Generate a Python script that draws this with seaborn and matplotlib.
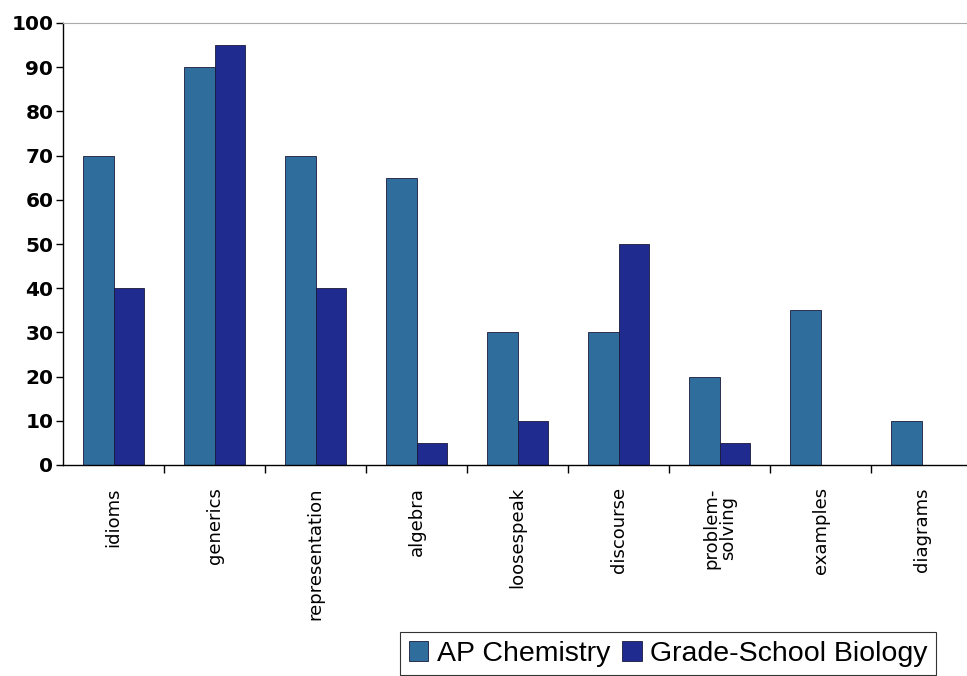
import matplotlib
matplotlib.use("Agg")
import matplotlib.pyplot as plt
import seaborn as sns
import pandas as pd
import numpy as np

categories = ["idioms", "generics", "representation", "algebra", "loosespeak",
              "discourse", "problem-\nsolving", "examples", "diagrams"]
ap_chemistry = [70, 90, 70, 65, 30, 30, 20, 35, 10]
grade_school_biology = [40, 95, 40, 5, 10, 50, 5, 0, 0]
series_names = ["AP Chemistry", "Grade-School Biology"]
y_ticks = [0, 10, 20, 30, 40, 50, 60, 70, 80, 90, 100]

df = pd.DataFrame({
    "category": categories * 2,
    "value": ap_chemistry + grade_school_biology,
    "series": [series_names[0]] * len(categories) + [series_names[1]] * len(categories),
})

sns.set_theme(style="white")
plt.rcParams['font.family'] = ['Liberation Sans', 'DejaVu Sans']
plt.rcParams['xtick.bottom'] = True
plt.rcParams['ytick.left'] = True
plt.rcParams['text.color'] = 'black'
plt.rcParams['xtick.color'] = 'black'
plt.rcParams['ytick.color'] = 'black'

fig = plt.figure(figsize=(9.67, 6.76), dpi=100)
ax = fig.add_axes([63/967, 1-465/676, 1-63/967, (465-23)/676])

palette = {series_names[0]: "#2f6d9d", series_names[1]: "#1f2b8e"}
sns.barplot(data=df, x="category", y="value", hue="series", palette=palette,
            width=0.6, ax=ax, saturation=1, edgecolor="#1a1a3a", linewidth=0.6,
            legend=True)

ax.set_xlim(-0.5, 8.45)
ax.set_ylim(0, 100)
ax.set_yticks(y_ticks)
ax.set_xlabel("")
ax.set_ylabel("")
ax.set_yticklabels([str(t) for t in y_ticks], fontsize=14.5, fontweight="bold",
                   family=["DejaVu Sans"], color="black")
ax.set_xticks(range(len(categories)))
ax.set_xticklabels(categories, rotation=90, fontsize=13, va="top", ha="center",
                   linespacing=0.95, family=["DejaVu Sans"], color="black")
ax.tick_params(axis="x", which="major", length=0, pad=16, bottom=True)
ax.set_xticks(np.arange(0.5, 8.5, 1.0), minor=True)
ax.tick_params(axis="x", which="minor", length=6, width=1, color="black",
               direction="out", bottom=True)
ax.tick_params(axis="y", which="major", length=5, width=1, color="black",
               direction="out", pad=2, left=True)

for s in ["left", "bottom"]:
    ax.spines[s].set_color("black")
    ax.spines[s].set_linewidth(1.0)
ax.spines["right"].set_visible(False)
ax.spines["top"].set_color("#aaaaaa")
ax.spines["top"].set_linewidth(0.8)

handles, labels = ax.get_legend_handles_labels()
ax.legend_.remove()
leg = fig.legend(handles, labels, loc="upper left",
                 bbox_to_anchor=(400/967, 1-632/676), ncol=2, fontsize=20.5,
                 frameon=True, fancybox=False, handlelength=0.7, handleheight=0.7,
                 handletextpad=0.3, columnspacing=0.4, borderpad=0.3,
                 borderaxespad=0)
leg.get_frame().set_edgecolor("black")
leg.get_frame().set_linewidth(0.8)
for t in leg.get_texts():
    t.set_color("black")

fig.savefig("out.png", dpi=100)
